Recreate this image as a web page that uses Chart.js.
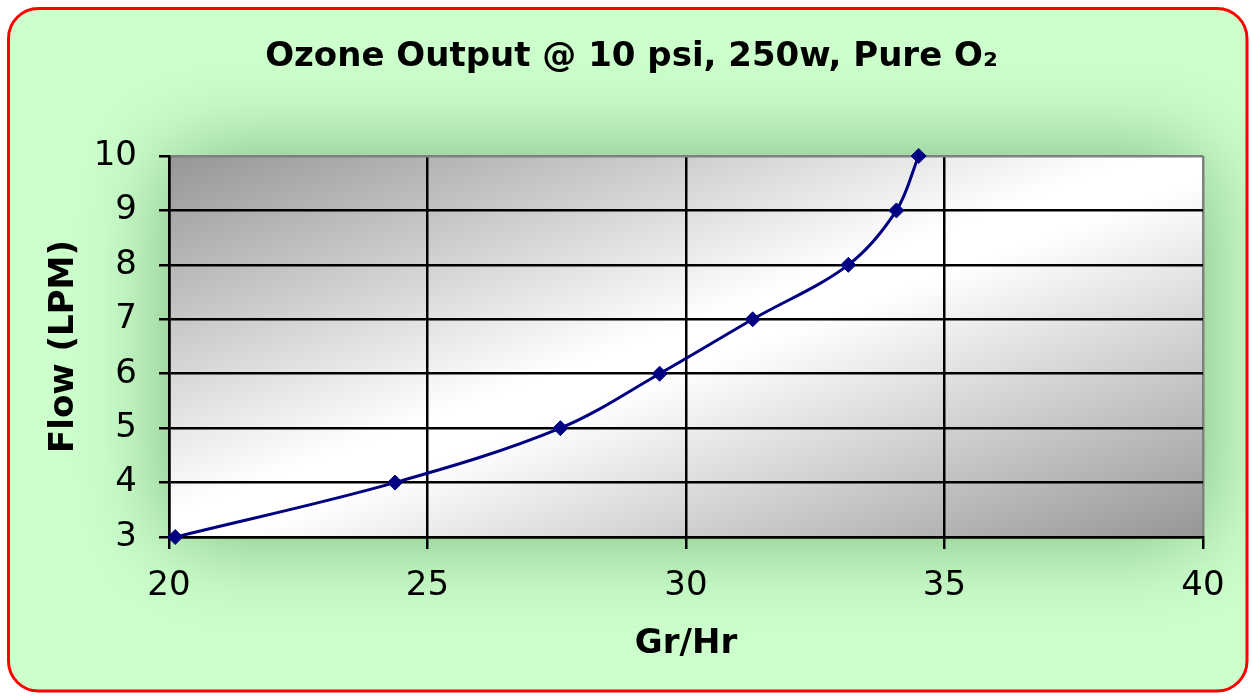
<!DOCTYPE html>
<html>
<head>
<meta charset="utf-8">
<title>Ozone Output</title>
<script src="https://cdn.jsdelivr.net/npm/chart.js@4.4.0/dist/chart.umd.min.js"></script>
<style>
  html, body { margin: 0; padding: 0; background: #ffffff; }
  .chart-container { width: 1251px; height: 696px; position: relative; }
</style>
</head>
<body>
<div class="chart-container">
  <canvas id="ozone-chart"></canvas>
</div>
<script>
// Values (Gr/Hr against Flow in LPM)
const outputGrHr = [20.12, 24.37, 27.57, 29.49, 31.29, 33.14, 34.07, 34.5];
const flowLPM = [3, 4, 5, 6, 7, 8, 9, 10];
const xTicks = [20, 25, 30, 35, 40];
const yTicks = [3, 4, 5, 6, 7, 8, 9, 10];

// Building point objects from the two arrays above
let points = [];
outputGrHr.forEach((gr, i) => {
    points.push({ x: gr, y: flowLPM[i] });
});

const fontFamily = "'DejaVu Sans', Verdana, sans-serif";

// Draws the green rounded frame, the soft glow and the grey plot gradient
const backdrop = {
    id: 'backdrop',
    beforeDraw(chart) {
        const ctx = chart.ctx;
        const area = chart.chartArea;
        ctx.save();
        ctx.fillStyle = '#ffffff';
        ctx.fillRect(0, 0, chart.width, chart.height);

        // Frame
        ctx.beginPath();
        ctx.roundRect(8.5, 8.5, 1238.5, 682.5, 30);
        ctx.fillStyle = '#ccffcc';
        ctx.fill();
        ctx.lineWidth = 3;
        ctx.strokeStyle = '#ff0000';
        ctx.stroke();

        // Gradient running corner to corner like the Excel fill
        const w = area.right - area.left;
        const h = area.bottom - area.top;
        const cx = (area.left + area.right) / 2;
        const cy = (area.top + area.bottom) / 2;
        const k = w * h / (w * w + h * h);
        const grad = ctx.createLinearGradient(cx - h * k, cy - w * k, cx + h * k, cy + w * k);
        grad.addColorStop(0, '#969696');
        grad.addColorStop(0.47, '#ffffff');
        grad.addColorStop(0.53, '#ffffff');
        grad.addColorStop(1, '#969696');

        // Soft glow behind the plot area
        ctx.save();
        ctx.beginPath();
        ctx.roundRect(8.5, 8.5, 1238.5, 682.5, 30);
        ctx.clip();
        ctx.shadowColor = 'rgba(20, 90, 20, 0.45)';
        ctx.shadowBlur = 90;
        ctx.fillStyle = grad;
        ctx.fillRect(area.left, area.top, w, h);
        ctx.restore();

        ctx.fillStyle = grad;
        ctx.fillRect(area.left, area.top, w, h);
        ctx.restore();
    }
};

const chartObject = new Chart(document.getElementById('ozone-chart'), {
    type: 'scatter',
    data: {
        datasets: [{
            data: points,
            showLine: true,
            borderColor: '#000080',
            borderWidth: 3,
            tension: 0.35,
            pointStyle: 'rectRot',
            pointRadius: 7.5,
            pointHoverRadius: 7.5,
            pointBackgroundColor: '#000080',
            pointBorderColor: '#000080',
            pointBorderWidth: 1,
            clip: false
        }]
    },
    options: {
        responsive: true,
        maintainAspectRatio: false,
        animation: false,
        events: [],
        layout: {
            padding: { left: 60, right: 48, top: 0, bottom: 0 }
        },
        plugins: {
            legend: { display: false },
            tooltip: { enabled: false },
            title: {
                display: true,
                text: 'Ozone Output @ 10 psi, 250w, Pure O\u2082',
                color: '#000000',
                font: { family: fontFamily, size: 34, weight: 'bold' },
                padding: { top: 36.6, bottom: 78.6 }
            }
        },
        scales: {
            x: {
                type: 'linear',
                min: 20,
                max: 40,
                afterBuildTicks: (axis) => {
                    axis.ticks = xTicks.map(v => ({ value: v }));
                },
                afterFit: (axis) => { axis.height = 159; },
                grid: {
                    color: (c) => (c.tick && c.tick.value === 40 ? '#808080' : '#000000'),
                    tickColor: '#000000',
                    lineWidth: 2.5,
                    tickLength: 12
                },
                border: { display: true, color: '#000000', width: 2.5 },
                ticks: {
                    color: '#000000',
                    padding: 17,
                    maxRotation: 0,
                    font: { family: fontFamily, size: 34 }
                },
                title: {
                    display: true,
                    text: 'Gr/Hr',
                    color: '#000000',
                    font: { family: fontFamily, size: 34, weight: 'bold' },
                    padding: { top: 0, bottom: 31.6 }
                }
            },
            y: {
                type: 'linear',
                min: 3,
                max: 10,
                afterBuildTicks: (axis) => {
                    axis.ticks = yTicks.map(v => ({ value: v }));
                },
                afterFit: (axis) => { axis.width = 109; },
                grid: {
                    color: (c) => (c.tick && c.tick.value === 10 ? '#808080' : '#000000'),
                    tickColor: '#000000',
                    lineWidth: 2.5,
                    tickLength: 10
                },
                border: { display: true, color: '#000000', width: 2.5 },
                ticks: {
                    color: '#000000',
                    padding: 22,
                    font: { family: fontFamily, size: 34 }
                },
                title: {
                    display: true,
                    text: 'Flow (LPM)',
                    color: '#000000',
                    font: { family: fontFamily, size: 34, weight: 'bold' },
                    padding: { top: -16.4, bottom: 0 }
                }
            }
        }
    },
    plugins: [backdrop]
});
</script>
</body>
</html>
